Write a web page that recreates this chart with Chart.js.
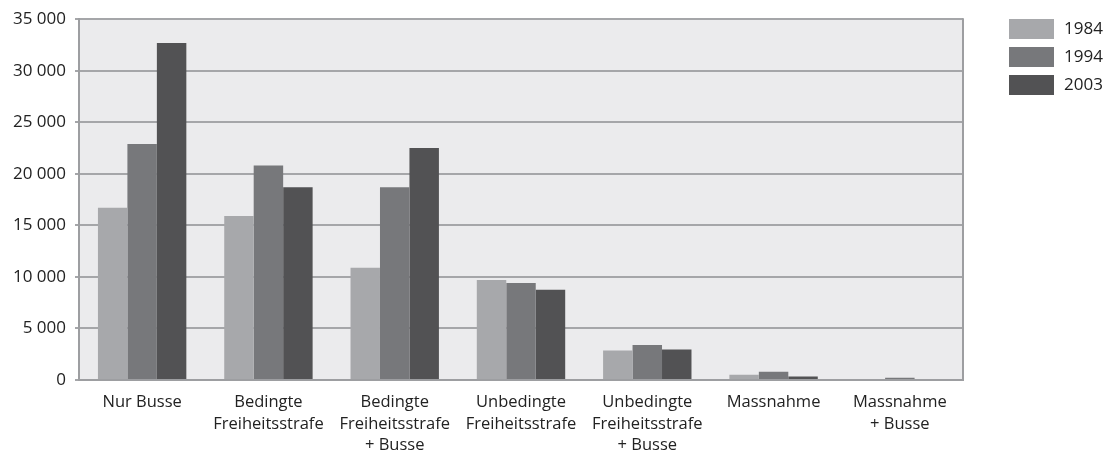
<!DOCTYPE html>
<html>
<head>
<meta charset="utf-8">
<script src="https://cdn.jsdelivr.net/npm/chart.js@4/dist/chart.umd.min.js"></script>
<style>
  html, body { margin: 0; padding: 0; background: #ffffff; }
  #wrap { position: relative; width: 1108px; height: 454px; }
</style>
</head>
<body>
<div id="wrap"><canvas id="c" width="1108" height="454"></canvas></div>
<script>
// Verurteilungen nach Sanktionsart
const categories = [
  ['Nur Busse'],
  ['Bedingte', 'Freiheitsstrafe'],
  ['Bedingte', 'Freiheitsstrafe', '+ Busse'],
  ['Unbedingte', 'Freiheitsstrafe'],
  ['Unbedingte', 'Freiheitsstrafe', '+ Busse'],
  ['Massnahme'],
  ['Massnahme', '+ Busse']
];
const seriesNames = ['1984', '1994', '2003'];
const values1984 = [16700, 15900, 10900, 9700, 2850, 500, 0];
const values1994 = [22900, 20800, 18700, 9400, 3400, 800, 220];
const values2003 = [32700, 18700, 22500, 8750, 2950, 330, 0];
const yTicks = [0, 5000, 10000, 15000, 20000, 25000, 30000, 35000];

const colors = ['#a7a8ab', '#77787b', '#525254'];
const FONT = '"Open Sans", "DejaVu Sans", sans-serif';
const TEXT = '#222222';

function fmt(v) {
  return String(v).replace(/\B(?=(\d{3})+(?!\d))/g, ' ');
}

// plot background, right frame line and a legend drawn to the right of the plot
const frame = {
  id: 'frame',
  beforeDraw(chart) {
    const { ctx, chartArea: a } = chart;
    ctx.save();
    ctx.fillStyle = '#ebebed';
    ctx.fillRect(a.left, a.top, a.right - a.left, a.bottom - a.top);
    ctx.restore();
  },
  afterDraw(chart) {
    const { ctx, chartArea: a } = chart;
    ctx.save();
    ctx.strokeStyle = '#9d9ea1';
    ctx.lineWidth = 2;
    ctx.beginPath();
    ctx.moveTo(a.right, a.top - 1);
    ctx.lineTo(a.right, a.bottom + 1);
    ctx.stroke();

    // legend
    const x0 = 1009, y0 = 19, step = 28;
    ctx.font = '17px ' + FONT;
    ctx.textBaseline = 'middle';
    ctx.textAlign = 'left';
    chart.data.datasets.forEach((ds, i) => {
      const y = y0 + i * step;
      ctx.fillStyle = ds.backgroundColor;
      ctx.fillRect(x0, y, 45, 20);
      ctx.fillStyle = TEXT;
      ctx.fillText(ds.label, x0 + 55, y + 10);
    });
    ctx.restore();
  }
};

new Chart(document.getElementById('c'), {
  type: 'bar',
  data: {
    labels: categories,
    datasets: [
      { label: seriesNames[0], data: values1984, backgroundColor: colors[0] },
      { label: seriesNames[1], data: values1994, backgroundColor: colors[1] },
      { label: seriesNames[2], data: values2003, backgroundColor: colors[2] }
    ]
  },
  options: {
    responsive: false,
    animation: false,
    devicePixelRatio: 1,
    layout: { padding: { top: 19, right: 145, left: 0, bottom: 0 } },
    datasets: {
      bar: { categoryPercentage: 0.7, barPercentage: 1.0, borderWidth: 0 }
    },
    plugins: {
      legend: { display: false },
      tooltip: { enabled: false }
    },
    scales: {
      x: {
        grid: { display: false, drawTicks: false },
        border: { display: true, color: '#9d9ea1', width: 2 },
        ticks: {
          color: TEXT,
          font: { family: FONT, size: 16.5, lineHeight: 1.3 },
          padding: 12,
          maxRotation: 0,
          autoSkip: false
        },
        afterFit(scale) { scale.height = 74; }
      },
      y: {
        min: 0,
        max: 35000,
        afterBuildTicks(scale) {
          scale.ticks = yTicks.map(v => ({ value: v }));
        },
        grid: {
          color: '#a5a6a9',
          lineWidth: 2,
          tickLength: 4,
          drawTicks: true
        },
        border: { display: true, color: '#9d9ea1', width: 2 },
        ticks: {
          color: TEXT,
          font: { family: FONT, size: 17 },
          padding: 9,
          callback: (v) => fmt(v)
        },
        afterFit(scale) { scale.width = 79; }
      }
    }
  },
  plugins: [frame]
});
</script>
</body>
</html>
